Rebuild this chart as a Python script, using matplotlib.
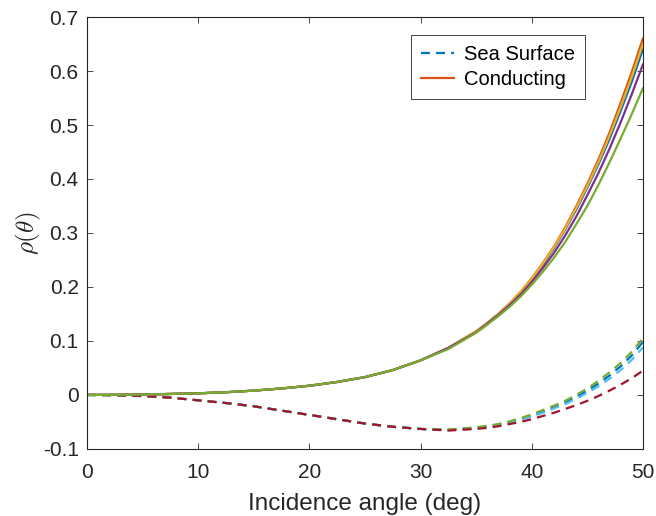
import matplotlib.pyplot as plt
from matplotlib.lines import Line2D

plt.rcParams['font.family'] = ['Liberation Sans', 'DejaVu Sans']
plt.rcParams['mathtext.fontset'] = 'cm'

# incidence angle (deg)
angle = [0, 2.5, 5, 7.5, 10, 12.5, 15, 17.5, 20, 22.5, 25, 27.5, 30, 32.5, 35,
         36, 37, 38, 39, 40, 41, 42, 43, 44, 45, 46, 47, 48, 49, 50]

low = [0, 0.0002, 0.0008, 0.0018, 0.003, 0.005, 0.008, 0.012, 0.017, 0.024, 0.033,
       0.046, 0.064, 0.087]

# conducting surface (solid)
cond_blue   = low + [0.117, 0.133, 0.150, 0.169, 0.190, 0.214, 0.241, 0.272, 0.306, 0.343,
                     0.384, 0.427, 0.474, 0.526, 0.580, 0.640]
cond_orange = low + [0.118, 0.133, 0.150, 0.169, 0.191, 0.216, 0.244, 0.275, 0.310, 0.349,
                     0.391, 0.436, 0.486, 0.541, 0.598, 0.660]
cond_yellow = low + [0.118, 0.133, 0.150, 0.169, 0.191, 0.215, 0.243, 0.274, 0.308, 0.346,
                     0.387, 0.431, 0.480, 0.533, 0.589, 0.650]
cond_purple = low + [0.116, 0.132, 0.148, 0.166, 0.186, 0.209, 0.235, 0.263, 0.295, 0.330,
                     0.370, 0.411, 0.456, 0.505, 0.557, 0.612]
cond_green  = low[:-1] + [0.085, 0.115, 0.130, 0.146, 0.163, 0.182, 0.204, 0.228, 0.254, 0.283,
                          0.316, 0.350, 0.389, 0.431, 0.475, 0.520, 0.568]

# sea surface (dashed)
sea_low = [0, -0.0005, -0.002, -0.005, -0.010, -0.015, -0.021, -0.029, -0.037, -0.045, -0.053,
           -0.059, -0.063]
sea_blue  = sea_low + [-0.065, -0.061, -0.058, -0.055, -0.050, -0.044, -0.038, -0.031, -0.023,
                       -0.014, -0.004, 0.008, 0.021, 0.036, 0.053, 0.073, 0.098]
sea_green = sea_low + [-0.064, -0.060, -0.057, -0.054, -0.049, -0.043, -0.036, -0.028, -0.020,
                       -0.011, 0.000, 0.012, 0.026, 0.042, 0.059, 0.080, 0.105]
sea_cyan  = sea_low + [-0.065, -0.062, -0.059, -0.056, -0.052, -0.046, -0.040, -0.033, -0.025,
                       -0.017, -0.007, 0.004, 0.016, 0.030, 0.046, 0.065, 0.088]
sea_red   = sea_low + [-0.066, -0.063, -0.061, -0.058, -0.054, -0.050, -0.045, -0.039, -0.033,
                       -0.026, -0.019, -0.011, -0.002, 0.008, 0.019, 0.031, 0.045]

c_blue = (0, 0.447, 0.741)
c_orange = (0.85, 0.325, 0.098)
c_yellow = (0.929, 0.694, 0.125)
c_purple = (0.494, 0.184, 0.556)
c_green = (0.466, 0.674, 0.188)
c_cyan = (0.301, 0.745, 0.933)
c_red = (0.635, 0.078, 0.184)
dark = (0.15, 0.15, 0.15)

fig = plt.figure(figsize=(6.56, 5.16), dpi=100)
ax = fig.add_axes([0.1326, 0.130, 0.8474, 0.837])

lw = 1.6
dash = (4, 2.8)
for y, c in [(sea_blue, c_blue), (sea_cyan, c_cyan), (sea_green, c_green), (sea_red, c_red)]:
    ax.plot(angle, y, color=c, lw=lw, ls='--', dashes=dash)
for y, c in [(cond_blue, c_blue), (cond_orange, c_orange), (cond_yellow, c_yellow),
             (cond_purple, c_purple), (cond_green, c_green)]:
    ax.plot(angle, y, color=c, lw=lw)

ax.set_xlim(0, 50)
ax.set_ylim(-0.1, 0.7)
ax.set_xticks([0, 10, 20, 30, 40, 50])
ax.set_yticks([-0.1, 0, 0.1, 0.2, 0.3, 0.4, 0.5, 0.6, 0.7])
ax.set_yticklabels(['-0.1', '0', '0.1', '0.2', '0.3', '0.4', '0.5', '0.6', '0.7'])
ax.tick_params(direction='in', length=4, width=0.6, top=True, right=True,
               labelsize=15, colors=dark, pad=6)
ax.tick_params(axis='x', pad=10)
for s in ax.spines.values():
    s.set_color(dark)
    s.set_linewidth(0.8)

ax.set_xlabel('Incidence angle (deg)', fontsize=17.5, color=dark, labelpad=8)
ax.set_ylabel(r'$\rho(\theta)$', fontsize=18, color=dark, labelpad=0)

handles = [Line2D([], [], color=c_blue, lw=lw, ls='--', dashes=dash),
           Line2D([], [], color=c_orange, lw=lw)]
leg = ax.legend(handles, ['Sea Surface', 'Conducting'], loc='upper right',
                bbox_to_anchor=(0.896, 0.958), fontsize=14.5, fancybox=False,
                framealpha=1, edgecolor=dark, handlelength=1.65,
                handletextpad=0.5, borderpad=0.5, labelspacing=0.3,
                borderaxespad=0)
leg.get_frame().set_linewidth(0.6)

fig.savefig('out.png', dpi=100)
